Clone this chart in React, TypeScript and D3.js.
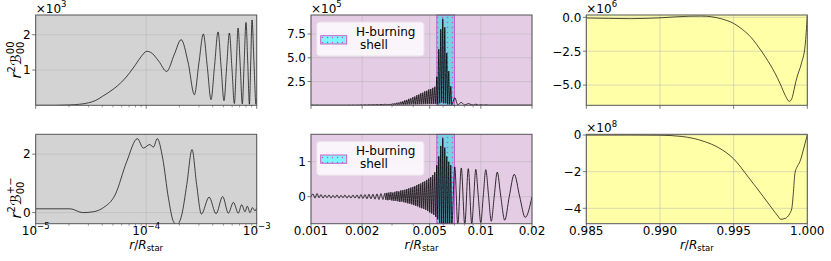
import { useEffect, useRef } from 'react';
import * as d3 from 'd3';

const W = 831;
const H = 261;
const FONT = 'DejaVu Sans, sans-serif';

// left column: r / R_star (log), top values in units of 1e3
const leftTopR = [1.0e-5, 1.5e-5, 2.0e-5, 2.5e-5, 3.0e-5, 3.5e-5, 4.0e-5, 5.0e-5, 6.0e-5, 7.0e-5, 8.0e-5, 9.0e-5,
  1.01e-4, 1.1e-4, 1.3e-4, 1.53e-4, 1.8e-4, 2.07e-4, 2.4e-4, 2.73e-4, 3.0e-4, 3.29e-4, 3.57e-4, 3.86e-4,
  4.15e-4, 4.47e-4, 4.76e-4, 5.06e-4, 5.35e-4, 5.66e-4, 5.97e-4, 6.28e-4, 6.53e-4, 6.78e-4, 7.1e-4, 7.41e-4,
  7.7e-4, 8.0e-4, 8.3e-4, 8.59e-4, 8.83e-4, 9.07e-4, 9.45e-4, 9.85e-4, 1.0e-3];
const leftTopV = [0.0, 0.0, 0.01, 0.03, 0.07, 0.14, 0.25, 0.45, 0.66, 0.9, 1.15, 1.38,
  1.53, 1.5, 1.25, 0.96, 1.45, 1.86, 1.2, 0.3, 1.2, 2.02, 1.1, 0.16,
  1.1, 2.08, 1.1, 0.13, 1.1, 2.05, 1.05, 0.05, 1.1, 2.19, 1.1, 0.04,
  1.2, 2.35, 1.2, 0.03, 1.2, 2.42, 1.2, 0.03, 0.2];

const leftBotR = [1.0e-5, 2.05e-5, 2.66e-5, 3.33e-5, 4.1e-5, 5.22e-5, 6.67e-5, 8.32e-5, 9.42e-5, 1.08e-4,
  1.16e-4, 1.26e-4, 1.41e-4, 1.59e-4, 1.76e-4, 1.89e-4, 2.1e-4, 2.33e-4, 2.6e-4, 2.86e-4,
  3.16e-4, 3.71e-4, 4.29e-4, 4.92e-4, 5.54e-4, 6.15e-4, 6.82e-4, 7.31e-4, 7.84e-4, 8.22e-4,
  8.7e-4, 9.14e-4, 9.66e-4, 1.0e-3];
const leftBotV = [0.13, 0.13, 0.0, 0.03, 0.17, 0.6, 1.75, 2.53, 2.21, 2.33,
  2.24, 2.53, 1.86, 0.49, -0.3, -0.42, -0.07, 0.96, 2.16, 0.96,
  -0.05, 0.53, -0.04, 0.55, -0.02, 0.35, -0.02, 0.27, 0.03, 0.22,
  0.0, 0.17, 0.06, 0.17];

// middle column: r in units of 1e-3 R_star (shared by both rows)
const midR = [
  1.000, 1.027, 1.056, 1.085, 1.115, 1.145, 1.177, 1.209, 1.242, 1.276, 1.311, 1.347, 1.384, 1.422, 1.461,
  1.501, 1.543, 1.585, 1.628, 1.673, 1.719, 1.766, 1.815, 1.865, 1.916, 1.968, 2.022, 2.078, 2.135, 2.193,
  2.254, 2.316, 2.379, 2.445, 2.512, 2.581, 2.652, 2.723,
  2.760, 2.797, 2.836, 2.874, 2.913, 2.953, 2.993, 3.034, 3.075, 3.117, 3.160, 3.203, 3.246, 3.291, 3.335,
  3.381, 3.427, 3.474, 3.521, 3.569, 3.617, 3.667, 3.717, 3.767, 3.819, 3.871, 3.923, 3.977, 4.031, 4.086,
  4.141, 4.198, 4.255, 4.313, 4.372, 4.431, 4.492, 4.553, 4.615, 4.678, 4.741, 4.806, 4.871, 4.938, 5.005,
  5.073, 5.142, 5.212, 5.283, 5.355, 5.428,
  5.502, 5.577, 5.653, 5.730, 5.808, 5.887, 5.967, 6.049, 6.131, 6.215, 6.299, 6.385, 6.472, 6.560, 6.650, 6.740,
  7.023, 7.314, 7.669, 8.041, 8.432, 8.841, 9.084, 9.333, 9.654, 9.987, 10.33, 10.69, 11.10, 11.51, 11.99,
  12.49, 13.09, 13.82, 14.69, 15.72, 16.93, 18.24, 20.0];
// top values in units of 1e5
const midTopV = [
  0.01, 0.03, 0.01, 0.03, 0.01, 0.02, 0.01, 0.02, 0.01, 0.02, 0.01, 0.02, 0.01, 0.02, 0.01,
  0.02, 0.01, 0.02, 0.01, 0.03, 0.01, 0.03, 0.01, 0.03, 0.02, 0.04, 0.02, 0.05, 0.02, 0.06,
  0.03, 0.07, 0.03, 0.08, 0.03, 0.1, 0.04, 0.12,
  0.03, 0.12, 0.03, 0.14, 0.03, 0.15, 0.04, 0.19, 0.04, 0.22, 0.05, 0.27, 0.05, 0.3, 0.06,
  0.37, 0.06, 0.42, 0.07, 0.52, 0.07, 0.57, 0.08, 0.68, 0.08, 0.74, 0.09, 0.86, 0.09, 0.93,
  0.1, 1.07, 0.1, 1.13, 0.11, 1.27, 0.11, 1.33, 0.12, 1.47, 0.12, 1.53, 0.13, 1.66, 0.13,
  1.72, 0.14, 1.84, 0.14, 1.95, 0.15,
  3.0, 0.1, 5.9, 0.2, 8.0, 0.3, 9.1, 0.2, 8.2, 0.2, 5.5, 0.1, 3.6, 0.1, 2.0, 0.05,
  0.8, 0.05, 0.3, 0.03, 0.18, 0.05, 0.03, 0.12, 0.02, 0.06, 0.02, 0.05, 0.02, 0.02, 0.02,
  0.02, 0.02, 0.02, 0.02, 0.02, 0.02, 0.02, 0.02];
const midBotV = [
  0.0, 0.08, -0.04, 0.09, -0.03, 0.06, -0.04, 0.05, -0.03, 0.05, -0.04, 0.04, -0.03, 0.05, -0.04,
  0.04, -0.03, 0.05, -0.04, 0.04, -0.04, 0.05, -0.04, 0.05, -0.05, 0.06, -0.05, 0.06, -0.06, 0.07,
  -0.06, 0.07, -0.07, 0.08, -0.08, 0.09, -0.08, 0.10,
  -0.09, 0.11, -0.1, 0.12, -0.09, 0.13, -0.11, 0.12, -0.12, 0.14, -0.12, 0.16, -0.13, 0.15, -0.15,
  0.18, -0.14, 0.19, -0.16, 0.2, -0.17, 0.22, -0.19, 0.24, -0.2, 0.26, -0.22, 0.28, -0.24, 0.3,
  -0.26, 0.33, -0.28, 0.36, -0.31, 0.38, -0.33, 0.42, -0.35, 0.44, -0.38, 0.48, -0.41, 0.52, -0.45,
  0.56, -0.48, 0.62, -0.52, 0.7, -0.58,
  0.9, -0.65, 1.15, -0.75, 1.45, -0.85, 1.67, -0.85, 1.4, -0.85, 1.15, -0.8, 1.0, -0.8, 0.9, -0.8,
  0.85, -0.8, 0.82, -0.8, 0.8, -0.78, 0.0, 0.78, 0.02, -0.74, 0.02, 0.77, 0.03, -0.7, 0.02,
  0.7, 0.02, -0.67, 0.0, 0.64, 0.0, -0.59, 0.0];

// H-burning shell extent (r / R_star)
const shellRange = [0.0055, 0.0070];

// right column
const rightTopR = [0.985, 0.9865, 0.988, 0.989, 0.990, 0.991, 0.992, 0.9928, 0.9935, 0.9942, 0.995, 0.9956,
  0.9962, 0.99656, 0.9972, 0.9978, 0.9982, 0.9985, 0.99878, 0.99895, 0.99905, 0.99917, 0.99928, 0.9996,
  0.99985, 1.0];
const rightTopV = [-0.05, -0.08, -0.1, -0.08, -0.04, 0.03, 0.08, 0.09, 0.04, -0.12, -0.45, -0.9,
  -1.5, -2.0, -3.0, -4.1, -5.0, -5.75, -6.2, -6.0, -5.6, -5.0, -4.5, -3.4,
  -2.1, 0.1];
const rightBotR = [0.985, 0.988, 0.990, 0.9915, 0.993, 0.994, 0.995, 0.996, 0.997, 0.9976, 0.998, 0.9982,
  0.9985, 0.9988, 0.99895, 0.99905, 0.99916, 0.9993, 0.9995, 0.9998, 1.0];
const rightBotV = [0.0, 0.0, -0.01, -0.08, -0.35, -0.7, -1.3, -2.3, -3.35, -4.0, -4.42, -4.6,
  -4.55, -4.3, -4.0, -3.2, -2.1, -1.75, -1.45, -0.6, 0.0];

// tick labels
const leftMajor = [1e-5, 1e-4, 1e-3];
const leftMajorExp = ['\u22125', '\u22124', '\u22123'];
const midMajor = [0.001, 0.002, 0.005, 0.01, 0.02];
const midMajorLabels = ['0.001', '0.002', '0.005', '0.01', '0.02'];
const rightMajor = [0.985, 0.99, 0.995, 1.0];
const rightMajorLabels = ['0.985', '0.990', '0.995', '1.000'];

const COLS = [35.7, 311, 586.3];
const AX_W = 221;
const ROWS = [{ top: 15, h: 90.3 }, { top: 134.3, h: 89.4 }];

type Panel = {
  col: number;
  row: number;
  bg: string;
  x: any;
  xs: number[];
  ys: number[];
  yDomain: [number, number];
  yTicks: number[];
  yLabels: string[];
  exp: string | null;
  xMajor: number[];
  xLabels: string[];
  logLabels: boolean;
  shell: boolean;
};

function drawPanel(svg: any, p: Panel, idx: number) {
  const left = COLS[p.col];
  const { top, h } = ROWS[p.row];
  const x = p.x.copy().range([left, left + AX_W]);
  const y = d3.scaleLinear().domain(p.yDomain).range([top + h, top]);
  const bottom = top + h;
  const g = svg.append('g');

  g.append('clipPath').attr('id', `clip${idx}`)
    .append('rect').attr('x', left).attr('y', top).attr('width', AX_W).attr('height', h);

  g.append('rect').attr('x', left).attr('y', top).attr('width', AX_W).attr('height', h).attr('fill', p.bg);

  // grid
  g.selectAll('.vg').data(p.xMajor).join('line')
    .attr('x1', (d: number) => x(d)).attr('x2', (d: number) => x(d))
    .attr('y1', top).attr('y2', bottom)
    .attr('stroke', '#b0b0b0').attr('stroke-opacity', 0.6).attr('stroke-width', 0.8);
  g.selectAll('.hg').data(p.yTicks).join('line')
    .attr('x1', left).attr('x2', left + AX_W)
    .attr('y1', (d: number) => y(d)).attr('y2', (d: number) => y(d))
    .attr('stroke', '#b0b0b0').attr('stroke-opacity', 0.6).attr('stroke-width', 0.8);

  if (p.shell) {
    const x0 = x(shellRange[0]);
    const x1 = x(shellRange[1]);
    g.append('rect').attr('x', x0).attr('y', top).attr('width', x1 - x0).attr('height', h)
      .attr('fill', '#78d0e4');
    g.append('rect').attr('x', x0).attr('y', top).attr('width', x1 - x0).attr('height', h)
      .attr('fill', 'url(#dots)').attr('stroke', '#c458c4').attr('stroke-width', 0.9);
  }

  const line = d3.line<number>()
    .x((_, i) => x(p.xs[i]))
    .y((d) => y(d))
    .curve(d3.curveMonotoneX);
  g.append('path').datum(p.ys).attr('d', line)
    .attr('fill', 'none').attr('stroke', '#000').attr('stroke-width', p.col === 1 ? 0.8 : 0.7)
    .attr('clip-path', `url(#clip${idx})`);

  if (p.shell) {
    const lg = g.append('g');
    lg.append('rect').attr('x', left + 5.7).attr('y', top + 7).attr('width', 107.3).attr('height', 34)
      .attr('rx', 3).attr('fill', '#fff').attr('fill-opacity', 0.8).attr('stroke', '#e8e0e8');
    lg.append('rect').attr('x', left + 9.7).attr('y', top + 20.7).attr('width', 26).attr('height', 8.3)
      .attr('fill', '#80f6ff');
    lg.append('rect').attr('x', left + 9.7).attr('y', top + 20.7).attr('width', 26).attr('height', 8.3)
      .attr('fill', 'url(#dots)').attr('stroke', '#c458c4').attr('stroke-width', 0.9);
    const t = lg.append('text').attr('font-family', FONT).attr('font-size', 12).attr('fill', '#000');
    t.append('tspan').attr('x', left + 45).attr('y', top + 21).text('H-burning');
    t.append('tspan').attr('x', left + 49).attr('y', top + 34).text('shell');
  }

  // spines
  g.append('rect').attr('x', left).attr('y', top).attr('width', AX_W).attr('height', h)
    .attr('fill', 'none').attr('stroke', '#555').attr('stroke-width', 1);

  // y ticks
  g.selectAll('.yt').data(p.yTicks).join('line')
    .attr('x1', left - 3.5).attr('x2', left)
    .attr('y1', (d: number) => y(d)).attr('y2', (d: number) => y(d))
    .attr('stroke', '#555').attr('stroke-width', 0.8);
  g.selectAll('.yl').data(p.yTicks).join('text')
    .attr('x', left - 5).attr('y', (d: number) => y(d)).attr('dy', '0.36em')
    .attr('text-anchor', 'end').attr('font-family', FONT).attr('font-size', 12)
    .text((_: number, i: number) => p.yLabels[i]);

  // x ticks (major + minor from the scale)
  const minor = p.col < 2
    ? x.ticks().filter((t: number) => !p.xMajor.some((m) => Math.abs(m - t) / m < 1e-6))
    : [];
  g.selectAll('.xt').data(p.xMajor).join('line')
    .attr('x1', (d: number) => x(d)).attr('x2', (d: number) => x(d))
    .attr('y1', bottom).attr('y2', bottom + 3.5)
    .attr('stroke', '#555').attr('stroke-width', 0.8);
  g.selectAll('.xm').data(minor).join('line')
    .attr('x1', (d: number) => x(d)).attr('x2', (d: number) => x(d))
    .attr('y1', bottom).attr('y2', bottom + 2)
    .attr('stroke', '#555').attr('stroke-width', 0.6);

  if (p.row === 1) {
    p.xMajor.forEach((v, i) => {
      const t = g.append('text').attr('x', x(v)).attr('y', bottom + 10.8)
        .attr('text-anchor', 'middle').attr('font-family', FONT).attr('font-size', 12);
      if (p.logLabels) {
        t.append('tspan').text('10');
        t.append('tspan').attr('font-size', 8.5).attr('dy', -5.5).text(leftMajorExp[i]);
      } else {
        t.text(p.xLabels[i]);
      }
    });
    const xl = g.append('text').attr('x', left + AX_W / 2).attr('y', 248.5)
      .attr('text-anchor', 'middle').attr('font-family', FONT).attr('font-size', 12);
    xl.append('tspan').attr('font-style', 'italic').text('r');
    xl.append('tspan').text('/');
    xl.append('tspan').attr('font-style', 'italic').text('R');
    xl.append('tspan').attr('font-size', 8.5).attr('dy', 2.5).text('star');
  }

  if (p.exp) {
    const ot = g.append('text').attr('x', left).attr('y', top - 2.3)
      .attr('font-family', FONT).attr('font-size', 12);
    ot.append('tspan').text('\u00d710');
    ot.append('tspan').attr('font-size', 8.5).attr('dy', -5.5).text(p.exp);
  }

  if (p.col === 0) {
    const yc = p.row === 0 ? 60 : 198;
    const lab = g.append('text').attr('transform', `translate(20.5,${yc}) rotate(-90)`)
      .attr('text-anchor', 'middle').attr('font-family', FONT).attr('font-size', 14.5);
    lab.append('tspan').attr('font-style', 'italic').text('r');
    lab.append('tspan').attr('font-size', 10).attr('dy', -5.8).text('2');
    lab.append('tspan').attr('dx', 0.5).attr('dy', 5.8).attr('font-style', 'italic').text('\u212c');
    lab.append('tspan').attr('font-size', 10).attr('dy', 3.5).text('00');
    lab.append('tspan').attr('font-size', 10).attr('dx', -12.7).attr('dy', -10)
      .text(p.row === 0 ? '00' : '+\u2212');
  }
}

export default function App() {
  const svgRef = useRef<SVGSVGElement>(null);

  useEffect(() => {
    if (!svgRef.current) return;
    const svg = d3.select(svgRef.current);
    svg.selectAll('*').remove();

    const defs = svg.append('defs');
    const pat = defs.append('pattern').attr('id', 'dots').attr('patternUnits', 'userSpaceOnUse')
      .attr('width', 5).attr('height', 5);
    pat.append('circle').attr('cx', 2.5).attr('cy', 2.5).attr('r', 0.75).attr('fill', '#d050d0');

    const xLeft = d3.scaleLog().domain([1e-5, 1e-3]);
    const xMid = d3.scaleLog().domain([0.001, 0.02]);
    const xRight = d3.scaleLinear().domain([0.985, 1.0]);
    const midRabs = midR.map((r) => r * 1e-3);

    const panels: Panel[] = [
      { col: 0, row: 0, bg: '#d3d3d3', x: xLeft, xs: leftTopR, ys: leftTopV, yDomain: [0, 2.56],
        yTicks: [1, 2], yLabels: ['1', '2'], exp: '3', xMajor: leftMajor, xLabels: [], logLabels: true, shell: false },
      { col: 0, row: 1, bg: '#d3d3d3', x: xLeft, xs: leftBotR, ys: leftBotV, yDomain: [-0.38, 2.68],
        yTicks: [0, 2], yLabels: ['0', '2'], exp: null, xMajor: leftMajor, xLabels: [], logLabels: true, shell: false },
      { col: 1, row: 0, bg: '#e5cce5', x: xMid, xs: midRabs, ys: midTopV, yDomain: [0, 9.5],
        yTicks: [2.5, 5, 7.5], yLabels: ['2.5', '5.0', '7.5'], exp: '5', xMajor: midMajor, xLabels: midMajorLabels,
        logLabels: false, shell: true },
      { col: 1, row: 1, bg: '#e5cce5', x: xMid, xs: midRabs, ys: midBotV, yDomain: [-0.77, 1.78],
        yTicks: [0, 1], yLabels: ['0', '1'], exp: null, xMajor: midMajor, xLabels: midMajorLabels,
        logLabels: false, shell: true },
      { col: 2, row: 0, bg: '#ffffa8', x: xRight, xs: rightTopR, ys: rightTopV, yDomain: [-6.49, 0.17],
        yTicks: [-5, -2.5, 0], yLabels: ['\u22125.0', '\u22122.5', '0.0'], exp: '6', xMajor: rightMajor,
        xLabels: rightMajorLabels, logLabels: false, shell: false },
      { col: 2, row: 1, bg: '#ffffa8', x: xRight, xs: rightBotR, ys: rightBotV, yDomain: [-4.84, 0.04],
        yTicks: [-4, -2, 0], yLabels: ['\u22124', '\u22122', '0'], exp: '8', xMajor: rightMajor,
        xLabels: rightMajorLabels, logLabels: false, shell: false },
    ];

    panels.forEach((p, i) => drawPanel(svg, p, i));
  }, []);

  return (
    <svg
      ref={svgRef}
      width={W}
      height={H}
      style={{ position: 'absolute', left: 0, top: 0, background: '#fff' }}
    />
  );
}
